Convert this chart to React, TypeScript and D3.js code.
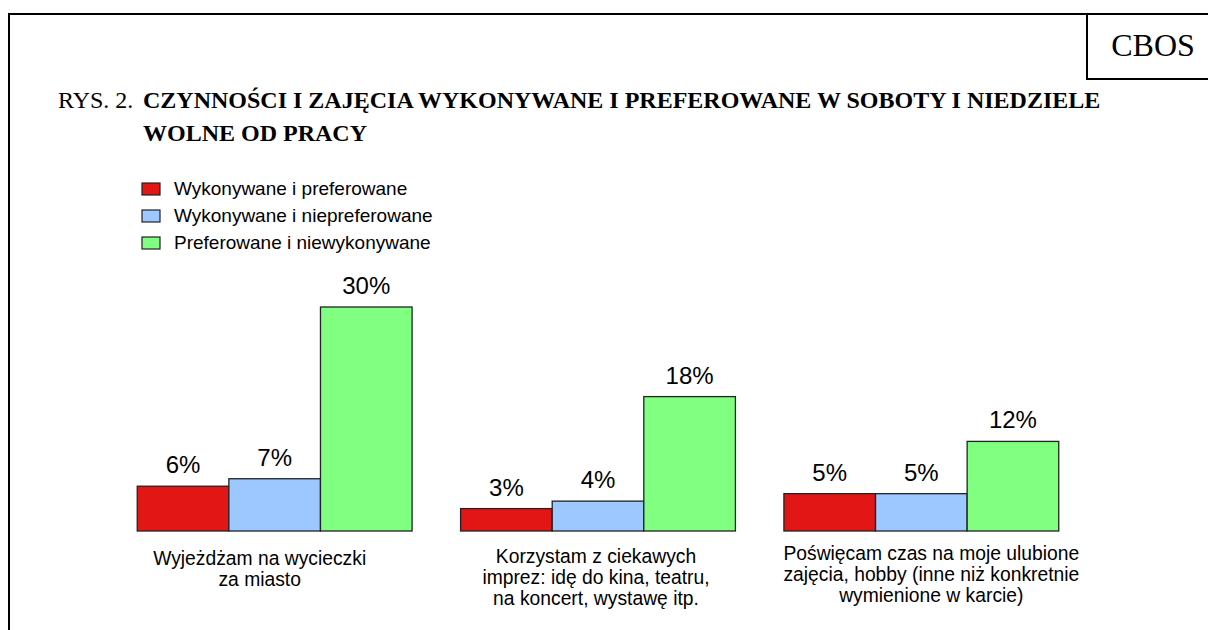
import React from "react";
import * as d3 from "d3";

const categories = ["g1", "g2", "g3"];
const categoryLabels = [
  ["Wyjeżdżam na wycieczki", "za miasto"],
  ["Korzystam z ciekawych", "imprez: idę do kina, teatru,", "na koncert, wystawę itp."],
  ["Poświęcam czas na moje ulubione", "zajęcia, hobby (inne niż konkretnie", "wymienione w karcie)"],
];
const seriesNames = [
  "Wykonywane i preferowane",
  "Wykonywane i niepreferowane",
  "Preferowane i niewykonywane",
];
const seriesColors = ["#E31616", "#9CC8FF", "#80FF80"];
const values = [
  [6, 7, 30],
  [3, 4, 18],
  [5, 5, 12],
];

// layout constants for category label placement
const labelBaselines = [565, 563, 560];
const labelShift = [-15, -2, 10];

const W = 1208;
const H = 630;

export default function App() {
  const x0 = d3
    .scaleBand<string>()
    .domain(categories)
    .range([113, 1083])
    .paddingInner(0.15)
    .paddingOuter(0.075);
  const x1 = d3
    .scaleBand<number>()
    .domain([0, 1, 2])
    .range([0, x0.bandwidth()])
    .padding(0);
  const y = d3.scaleLinear().domain([0, 30]).range([531, 307]);

  const arial = "Arial, 'Liberation Sans', sans-serif";
  const times = "'Times New Roman', 'Liberation Serif', serif";

  return (
    <div style={{ position: "absolute", left: 0, top: 0 }}>
      <svg width={W} height={H} style={{ display: "block", background: "#fff" }}>
        {/* frame */}
        <line x1={9} y1={14} x2={W} y2={14} stroke="#000" strokeWidth={2} />
        <line x1={9} y1={13} x2={9} y2={H} stroke="#000" strokeWidth={2} />
        <line x1={1087} y1={14} x2={1087} y2={79} stroke="#000" strokeWidth={2} />
        <line x1={1086} y1={79} x2={W} y2={79} stroke="#000" strokeWidth={2} />
        <text x={1153} y={56} textAnchor="middle" fontFamily={times} fontSize={32} fill="#000">
          CBOS
        </text>

        {/* title */}
        <text x={58} y={108} fontFamily={times} fontSize={24} fill="#000">
          RYS. 2.
        </text>
        <text x={143} y={108} fontFamily={times} fontSize={24} fontWeight="bold" fill="#000">
          CZYNNOŚCI I ZAJĘCIA WYKONYWANE I PREFEROWANE W SOBOTY I NIEDZIELE
        </text>
        <text x={143} y={141} fontFamily={times} fontSize={24} fontWeight="bold" fill="#000">
          WOLNE OD PRACY
        </text>

        {/* legend */}
        {seriesNames.map((s, i) => (
          <g key={s} transform={`translate(0, ${195 + i * 27})`}>
            <rect x={142} y={-12} width={18} height={12} fill={seriesColors[i]} stroke="#222" strokeWidth={1.2} />
            <text x={174} y={0} fontFamily={arial} fontSize={19} fill="#000">
              {s}
            </text>
          </g>
        ))}

        {/* bars */}
        {categories.map((c, ci) => (
          <g key={c} transform={`translate(${x0(c)}, 0)`}>
            {values[ci].map((v, si) => (
              <g key={si}>
                <rect
                  x={x1(si)}
                  y={y(v)}
                  width={x1.bandwidth()}
                  height={y(0) - y(v)}
                  fill={seriesColors[si]}
                  stroke="#222"
                  strokeWidth={1.3}
                />
                <text
                  x={(x1(si) as number) + x1.bandwidth() / 2}
                  y={y(v) - 13}
                  textAnchor="middle"
                  fontFamily={arial}
                  fontSize={24}
                  fill="#000"
                >
                  {v}%
                </text>
              </g>
            ))}
            {categoryLabels[ci].map((line, li) => (
              <text
                key={li}
                x={x0.bandwidth() / 2 + labelShift[ci]}
                y={labelBaselines[ci] + li * 21}
                textAnchor="middle"
                fontFamily={arial}
                fontSize={19.3}
                fill="#000"
              >
                {line}
              </text>
            ))}
          </g>
        ))}
      </svg>
    </div>
  );
}
